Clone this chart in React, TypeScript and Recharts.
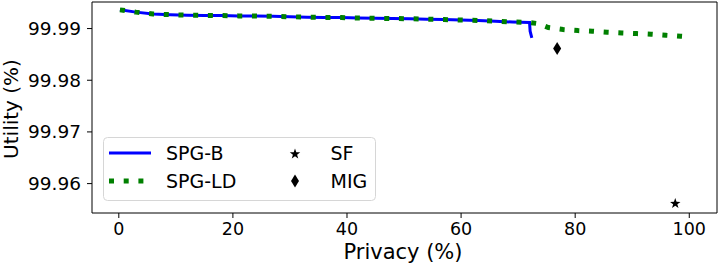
import { ComposedChart, Line, Scatter, XAxis, YAxis, Legend, ReferenceLine } from 'recharts';

// shared curve (both methods coincide up to ~72% privacy)
const basePrivacy = [0.2, 3, 6, 9, 12, 15, 18, 21, 24, 27, 30, 33, 36, 39, 42, 45, 48, 51, 54, 57, 60, 63, 66, 69, 72];
const baseUtility = [
  99.99362, 99.99318, 99.99281, 99.99269, 99.9926, 99.99255, 99.99252, 99.99245, 99.99242,
  99.99237, 99.99229, 99.99221, 99.99215, 99.99213, 99.99205, 99.99198, 99.99196, 99.9919,
  99.99182, 99.99175, 99.99166, 99.99158, 99.99143, 99.99127, 99.99117,
];

const spgbTailPrivacy = [72.1, 72.4];
const spgbTailUtility = [99.9895, 99.9882];

const spgldTailPrivacy = [73.5, 75.3, 77.9, 80.5, 83, 85.6, 88.2, 90.8, 93.3, 95.9, 98.5, 99.3];
const spgldTailUtility = [
  99.99095, 99.99019, 99.98981, 99.98961, 99.98948, 99.98928, 99.98915, 99.98903, 99.9889,
  99.9887, 99.98851, 99.98845,
];

const sfPoint = [{ x: 97.54, y: 99.95613 }];
const migPoint = [{ x: 76.84, y: 99.98613 }];

const xTicks = [0, 20, 40, 60, 80, 100];
const yTicks = [99.96, 99.97, 99.98, 99.99];

const X_DOMAIN: [number, number] = [-4.7, 104.86];
const Y_DOMAIN: [number, number] = [99.95431, 99.99514];

const toPoints = (xs: number[], ys: number[]) => xs.map((x, i) => ({ x, y: ys[i] }));

const spgb = [...toPoints(basePrivacy, baseUtility), ...toPoints(spgbTailPrivacy, spgbTailUtility)];
const spgld = [...toPoints(basePrivacy, baseUtility), ...toPoints(spgldTailPrivacy, spgldTailUtility)];

const FONT = 'DejaVu Sans';

const starPath = (cx: number, cy: number, r: number) => {
  const pts: string[] = [];
  for (let i = 0; i < 10; i++) {
    const rad = i % 2 === 0 ? r : r * 0.4;
    const a = -Math.PI / 2 + (i * Math.PI) / 5;
    pts.push(`${cx + rad * Math.cos(a)},${cy + rad * Math.sin(a)}`);
  }
  return `M${pts.join('L')}Z`;
};

const Star = (props: any) => <path d={starPath(props.cx, props.cy, 5.5)} fill="#000" />;

const Diamond = (props: any) => {
  const { cx, cy } = props;
  return <path d={`M${cx},${cy - 6.5}L${cx + 4},${cy}L${cx},${cy + 6.5}L${cx - 4},${cy}Z`} fill="#000" />;
};

const LegendBox = () => (
  <svg width={273} height={64} style={{ display: 'block' }}>
    <rect x={0.5} y={0.5} width={272} height={63} rx={4} fill="rgba(255,255,255,0.8)" stroke="#d6d6d6" />
    <line x1={6} x2={48} y1={16} y2={16} stroke="#0000ff" strokeWidth={3} />
    <line x1={6} x2={48} y1={44} y2={44} stroke="#008000" strokeWidth={5} strokeDasharray="5 9.7" />
    <text x={63} y={23} fontFamily={FONT} fontSize={19}>SPG-B</text>
    <text x={63} y={51} fontFamily={FONT} fontSize={19}>SPG-LD</text>
    <path d={starPath(192, 17, 5.5)} fill="#000" />
    <path d="M192,37.5L196,44L192,50.5L188,44Z" fill="#000" />
    <text x={227.5} y={23} fontFamily={FONT} fontSize={19}>SF</text>
    <text x={227.5} y={51} fontFamily={FONT} fontSize={19}>MIG</text>
  </svg>
);

export default function App() {
  return (
    <div style={{ position: 'absolute', left: 0, top: 0, background: '#fff' }}>
      <ComposedChart width={720} height={267} margin={{ top: 2, right: 3, bottom: 0, left: 0 }}>
        <XAxis
          xAxisId="main"
          type="number"
          dataKey="x"
          domain={X_DOMAIN}
          ticks={xTicks}
          allowDataOverflow
          height={54}
          stroke="#000"
          tickSize={5}
          tickMargin={5}
          tick={{ fill: '#000', fontSize: 17.5, fontFamily: FONT }}
          label={{
            content: () => (
              <text x={403} y={259} textAnchor="middle" fontFamily={FONT} fontSize={21} fill="#000">
                Privacy (%)
              </text>
            ),
          }}
        />
        <YAxis
          yAxisId="main"
          type="number"
          domain={Y_DOMAIN}
          ticks={yTicks}
          allowDataOverflow
          width={92}
          stroke="#000"
          tickSize={5}
          tickMargin={6}
          tickFormatter={(v: number) => v.toFixed(2)}
          tick={{ fill: '#000', fontSize: 18.5, fontFamily: FONT }}
          label={{
            content: () => (
              <text x={18} y={109} transform="rotate(-90 18 109)" textAnchor="middle" fontFamily={FONT} fontSize={20} fill="#000">
                Utility (%)
              </text>
            ),
          }}
        />
        <ReferenceLine xAxisId="main" yAxisId="main" y={Y_DOMAIN[1]} stroke="#000" strokeWidth={1} />
        <ReferenceLine xAxisId="main" yAxisId="main" x={X_DOMAIN[1]} stroke="#000" strokeWidth={1} />
        <Line
          xAxisId="main"
          yAxisId="main"
          data={spgb}
          dataKey="y"
          type="linear"
          stroke="#0000ff"
          strokeWidth={3}
          dot={false}
          name="SPG-B"
          isAnimationActive={false}
        />
        <Line
          xAxisId="main"
          yAxisId="main"
          data={spgld}
          dataKey="y"
          type="linear"
          stroke="#008000"
          strokeWidth={5}
          strokeDasharray="5 9.7"
          dot={false}
          name="SPG-LD"
          isAnimationActive={false}
        />
        <Scatter xAxisId="main" yAxisId="main" data={sfPoint} dataKey="y" shape={Star} name="SF" isAnimationActive={false} />
        <Scatter xAxisId="main" yAxisId="main" data={migPoint} dataKey="y" shape={Diamond} name="MIG" isAnimationActive={false} />
        <Legend
          layout="vertical"
          align="center"
          verticalAlign="middle"
          content={() => <LegendBox />}
          wrapperStyle={{ position: 'absolute', left: 103, top: 137, width: 273, height: 64 }}
        />
      </ComposedChart>
    </div>
  );
}
